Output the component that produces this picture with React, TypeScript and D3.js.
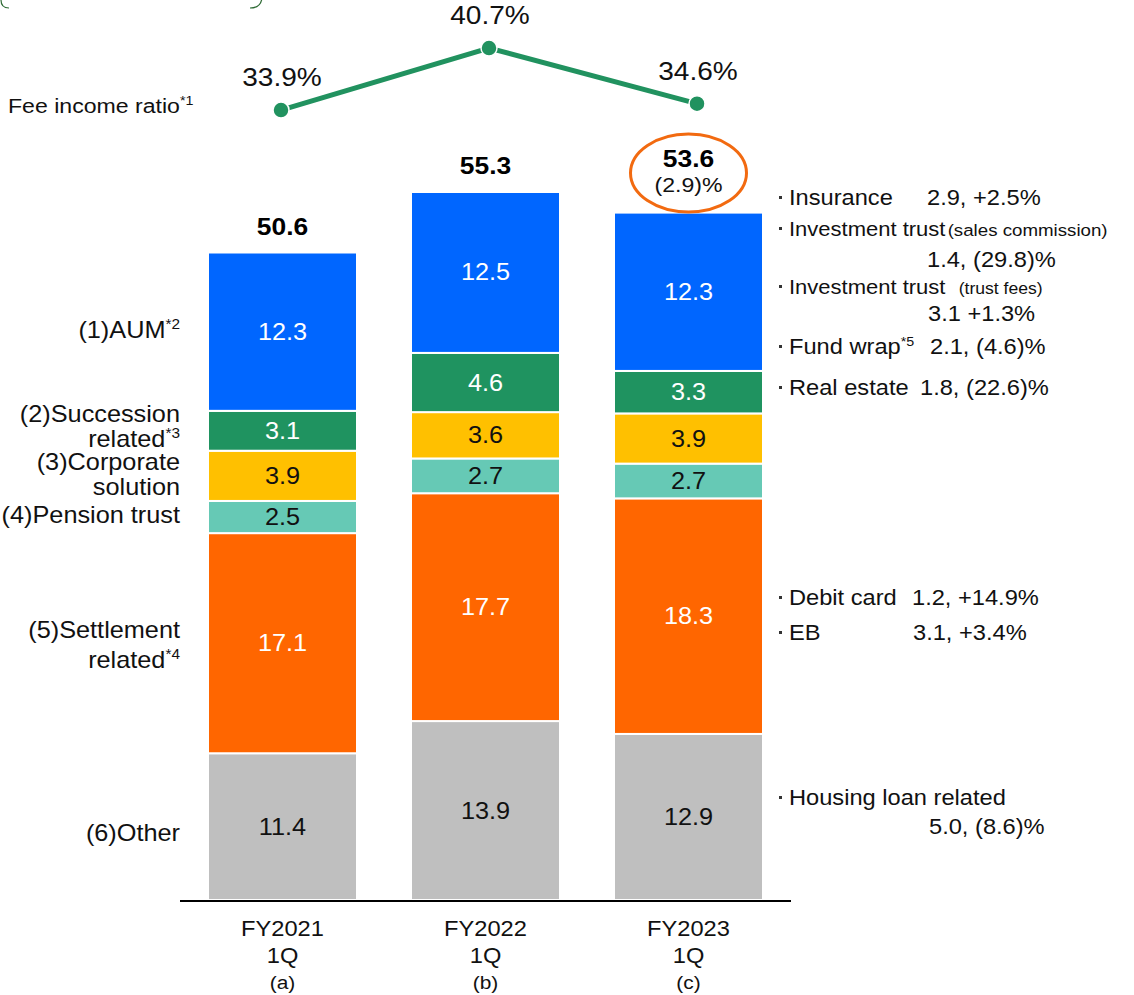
import { useEffect, useRef } from "react";
import * as d3 from "d3";

// Catégories (trimestres)
const periods = ["FY2021", "FY2022", "FY2023"];
const periodSub = ["1Q", "1Q", "1Q"];
const periodTag = ["(a)", "(b)", "(c)"];

// Séries empilées, du bas vers le haut
const seriesNames = ["Other", "Settlement", "Pension", "Corporate", "Succession", "AUM"];
const other = [11.4, 13.9, 12.9];
const settlement = [17.1, 17.7, 18.3];
const pension = [2.5, 2.7, 2.7];
const corporate = [3.9, 3.6, 3.9];
const succession = [3.1, 4.6, 3.3];
const aum = [12.3, 12.5, 12.3];
const totals = ["50.6", "55.3", "53.6"];

// Ratio de commissions
const feeRatio = [33.9, 40.7, 34.6];

const colors = ["#bfbfbf", "#ff6600", "#66c9b5", "#ffc000", "#1f9360", "#0066ff"];
const labelColors = ["#111", "#fff", "#111", "#111", "#fff", "#fff"];

const SX = 1.1; // étirement horizontal du texte

export default function App() {
  const svgRef = useRef<SVGSVGElement>(null);

  useEffect(() => {
    document.body.style.margin = "0";
    if (!svgRef.current) return;
    const svg = d3.select(svgRef.current);
    svg.selectAll("*").remove();
    svg.style("font-family", "'Liberation Sans', Arial, sans-serif");

    const txt = (
      parent: any,
      tx: number,
      ty: number,
      size: number,
      anchor = "start",
      fill = "#111"
    ) =>
      parent
        .append("text")
        .attr("transform", `translate(${tx},${ty}) scale(${SX},1)`)
        .attr("text-anchor", anchor)
        .attr("font-size", size)
        .attr("fill", fill);

    const baseY = 900;

    const x = d3.scaleBand().domain(periods).range([181, 790]).paddingInner(0.266).paddingOuter(0.133);
    const y = d3.scaleLinear().domain([0, 55]).range([baseY, 192]);

    const rows = periods.map((p, i) => ({
      period: p,
      Other: other[i],
      Settlement: settlement[i],
      Pension: pension[i],
      Corporate: corporate[i],
      Succession: succession[i],
      AUM: aum[i]
    }));
    const stacked = d3.stack<any>().keys(seriesNames)(rows);

    // Crochets tronqués en haut à gauche
    svg.append("path")
      .attr("d", "M1,-12 L1,0 Q1,8 9,8 M250,8 Q262,8 262,-4 L262,-12")
      .attr("fill", "none").attr("stroke", "#2e6b35").attr("stroke-width", 1.2);

    // Barres
    stacked.forEach((layer, si) => {
      const g = svg.append("g");
      g.selectAll("rect").data(layer).enter().append("rect")
        .attr("x", (d: any) => x(d.data.period) || 0)
        .attr("width", x.bandwidth())
        .attr("y", (d) => y(d[1]))
        .attr("height", (d) => y(d[0]) - y(d[1]))
        .attr("fill", colors[si])
        .attr("stroke", "#fff")
        .attr("stroke-width", 2);
      layer.forEach((d: any) => {
        txt(g, (x(d.data.period) || 0) + x.bandwidth() / 2, (y(d[0]) + y(d[1])) / 2 + 8, 23, "middle", labelColors[si])
          .text(d3.format(".1f")(d.data[seriesNames[si]]));
      });
    });

    // Axe
    svg.append("line")
      .attr("x1", 180).attr("x2", 791).attr("y1", baseY + 1).attr("y2", baseY + 1)
      .attr("stroke", "#000").attr("stroke-width", 2);

    periods.forEach((p, i) => {
      const cx = (x(p) || 0) + x.bandwidth() / 2;
      txt(svg, cx, 936, 21.5, "middle").text(p);
      txt(svg, cx, 963, 21.5, "middle").text(periodSub[i]);
      txt(svg, cx, 989, 19, "middle").text(periodTag[i]);
      // Totaux
      const top = stacked[stacked.length - 1][i][1];
      txt(svg, cx, y(top) - (i === 2 ? 46 : 18), 24, "middle", "#000")
        .attr("font-weight", "bold").text(totals[i]);
    });

    // Ellipse + variation pour FY2023
    const cxC = (x(periods[2]) || 0) + x.bandwidth() / 2;
    txt(svg, cxC, 192, 21, "middle").text("(2.9)%");
    svg.append("ellipse").attr("cx", cxC).attr("cy", 173).attr("rx", 58).attr("ry", 39)
      .attr("fill", "none").attr("stroke", "#f26a10").attr("stroke-width", 3);

    // Ligne du ratio
    const lx = d3.scalePoint().domain(periods).range([281, 697]);
    const ly = d3.scaleLinear().domain([30, 45]).range([145.6, 8.8]);
    const line = d3.line<number>().x((_, i) => lx(periods[i]) || 0).y((d) => ly(d));
    svg.append("path").datum(feeRatio).attr("d", line)
      .attr("fill", "none").attr("stroke", "#21925f").attr("stroke-width", 5);
    svg.selectAll(".pt").data(feeRatio).enter().append("circle")
      .attr("cx", (_, i) => lx(periods[i]) || 0).attr("cy", (d) => ly(d)).attr("r", 8)
      .attr("fill", "#21925f").attr("stroke", "#fff").attr("stroke-width", 1.5);
    feeRatio.forEach((d, i) => {
      txt(svg, (lx(periods[i]) || 0) + 1, ly(d) - 24, 25.5, "middle").text(d.toFixed(1) + "%");
    });

    const fee = txt(svg, 8, 113, 21);
    fee.append("tspan").text("Fee income ratio");
    fee.append("tspan").attr("font-size", 13).attr("dy", -8).text("*1");

    // Libellés de gauche
    const leftLabels: [string, string, number][] = [
      ["(1)AUM", "*2", 338],
      ["(2)Succession", "", 422],
      ["related", "*3", 447],
      ["(3)Corporate", "", 470],
      ["solution", "", 495],
      ["(4)Pension trust", "", 523],
      ["(5)Settlement", "", 638],
      ["related", "*4", 668],
      ["(6)Other", "", 841]
    ];
    leftLabels.forEach(([t, sup, yy]) => {
      const tx = txt(svg, 180, yy, 23, "end");
      tx.append("tspan").text(t);
      if (sup) tx.append("tspan").attr("font-size", 14).attr("dy", -9).text(sup);
    });

    // Annotations de droite : [libellé, valeur, x de la valeur, ligne de base, puce]
    const notes: [string, string, number, number, boolean][] = [
      ["Insurance", "2.9, +2.5%", 927, 205, true],
      ["Investment trust", "", 0, 236, true],
      ["", "1.4, (29.8)%", 927, 267, false],
      ["Investment trust", "", 0, 294, true],
      ["", "3.1  +1.3%", 928, 321, false],
      ["Fund wrap", "2.1, (4.6)%", 930, 354, true],
      ["Real estate", "1.8, (22.6)%", 920, 395, true],
      ["Debit card", "1.2, +14.9%", 912, 605, true],
      ["EB", "3.1, +3.4%", 913, 640, true],
      ["Housing loan related", "", 0, 805, true],
      ["", "5.0, (8.6)%", 929, 834, false]
    ];
    notes.forEach(([t, v, vx, yy, bullet], i) => {
      if (bullet) {
        svg.append("rect").attr("x", 779).attr("y", yy - 9).attr("width", 3).attr("height", 3).attr("fill", "#333");
      }
      if (t) {
        const tx = txt(svg, 789, yy, i === 1 || i === 3 ? 20 : 21.5);
        tx.append("tspan").text(t);
        if (t === "Fund wrap") tx.append("tspan").attr("font-size", 13).attr("dy", -8).text("*5");
        if (i === 1) tx.append("tspan").attr("font-size", 17).attr("dx", 2).text("(sales commission)");
        if (i === 3) tx.append("tspan").attr("font-size", 16).attr("dx", 12).text("(trust fees)");
      }
      if (v) txt(svg, vx, yy, 21.5).text(v);
    });
  }, []);

  return <svg ref={svgRef} width={1134} height={995} style={{ display: "block", background: "#fff" }} />;
}
